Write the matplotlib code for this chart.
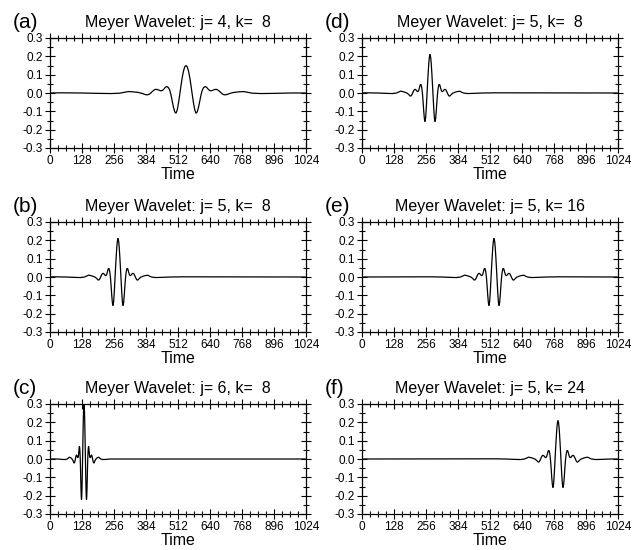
import numpy as np
import matplotlib.pyplot as plt
from matplotlib.ticker import MultipleLocator, FormatStrFormatter

plt.rcParams['font.family'] = ['Liberation Sans', 'DejaVu Sans']

# half-shapes of the wavelets: offset from the centre
# (time steps) and value; the wavelet is symmetric about its centre
j4_off = [0, 5, 10, 15, 20, 25, 30, 35, 40, 45, 50, 55, 60, 65, 70, 76, 82, 88,
          94, 100, 106, 114, 122, 130, 138, 146, 154, 162, 174, 190, 210, 230,
          246, 265, 300, 350, 420, 500]
j4_val = [0.150, 0.143, 0.120, 0.085, 0.040, -0.008, -0.055, -0.092, -0.110,
          -0.103, -0.078, -0.045, -0.010, 0.015, 0.029, 0.035, 0.032, 0.022,
          0.014, 0.012, 0.014, 0.019, 0.020, 0.014, 0.004, -0.006, -0.010,
          -0.009, -0.003, 0.003, 0.006, 0.008, 0.004, -0.001, -0.003, -0.002,
          0.000, 0.001]

j5_off = [0, 2.5, 5, 7.5, 10, 12.5, 15, 17.5, 20, 22.5, 25, 27.5, 30, 33, 36,
          39, 42, 45, 48, 51, 55, 59, 63, 67, 71, 75, 79, 84, 90, 100, 110, 118,
          124, 134, 150, 175, 210, 260]
j5_val = [0.210, 0.196, 0.160, 0.105, 0.045, -0.020, -0.085, -0.135, -0.155,
          -0.140, -0.100, -0.050, -0.005, 0.030, 0.046, 0.045, 0.030, 0.015,
          0.008, 0.008, 0.015, 0.020, 0.018, 0.008, -0.005, -0.015, -0.017,
          -0.010, -0.002, 0.004, 0.008, 0.010, 0.006, 0.000, -0.003, -0.002,
          0.000, 0.001]

j6_off = [0, 1, 2, 3, 4, 5, 6, 7, 8, 9, 10, 11, 12, 13, 14, 15, 16, 17, 18, 19,
          20, 21, 22, 23, 24, 26, 28, 30, 32, 34, 36, 38, 40, 42, 45, 50, 55, 59,
          62, 67, 75, 90, 105, 130]
j6_val = [0.300, 0.290, 0.255, 0.200, 0.130, 0.055, -0.020, -0.095, -0.160,
          -0.205, -0.220, -0.205, -0.165, -0.110, -0.050, 0.000, 0.035, 0.058,
          0.068, 0.066, 0.052, 0.035, 0.020, 0.012, 0.008, 0.010, 0.018, 0.022,
          0.016, 0.003, -0.010, -0.020, -0.022, -0.016, -0.006, 0.004, 0.008,
          0.010, 0.006, 0.000, -0.003, -0.002, 0.000, 0.000]

shapes = {4: (j4_off, j4_val), 5: (j5_off, j5_val), 6: (j6_off, j6_val)}

panel_labels = ['(a)', '(b)', '(c)', '(d)', '(e)', '(f)']
panel_j = [4, 5, 6, 5, 5, 5]
panel_k = [8, 8, 8, 8, 16, 24]
panel_centre = [544, 272, 136, 272, 528, 784]
n_time = 1024


def full_curve(off, val, centre):
    off = np.array(off, dtype=float)
    val = np.array(val, dtype=float)
    x = np.concatenate([centre - off[::-1], centre + off[1:]])
    y = np.concatenate([val[::-1], val[1:]])
    keep = (x > 0) & (x < n_time)
    x = np.concatenate([[0], x[keep], [n_time]])
    y = np.concatenate([[0], y[keep], [0]])
    return x, y


fig = plt.figure(figsize=(6.4, 5.5), dpi=100)
W, H = 640, 550
lefts = [50, 362]
tops = [38, 222, 404]
aw, ah = 256, 110

for i in range(6):
    col, row = divmod(i, 3)
    ax = fig.add_axes([lefts[col] / W, 1 - (tops[row] + ah) / H, aw / W, ah / H])
    off, val = shapes[panel_j[i]]
    x, y = full_curve(off, val, panel_centre[i])
    ax.plot(x, y, color='black', lw=0.9)

    ax.set_xlim(0, n_time)
    ax.set_ylim(-0.3, 0.3)
    ax.xaxis.set_major_locator(MultipleLocator(128))
    ax.xaxis.set_minor_locator(MultipleLocator(32))
    ax.yaxis.set_major_locator(MultipleLocator(0.1))
    ax.yaxis.set_minor_locator(MultipleLocator(0.05))
    ax.yaxis.set_major_formatter(FormatStrFormatter('%.1f'))
    ax.tick_params(which='both', direction='inout', top=True, right=True,
                   labelsize=8.5, width=0.8, pad=1.5)
    ax.tick_params(which='major', length=7)
    ax.tick_params(which='minor', length=4)
    for s in ax.spines.values():
        s.set_linewidth(0.9)

    ax.set_title(f'Meyer Wavelet: j= {panel_j[i]}, k= {panel_k[i]:2d}',
                 fontsize=11.5, pad=8)
    ax.set_xlabel('Time', fontsize=11.5, labelpad=0)
    ax.text(-0.145, 1.09, panel_labels[i], transform=ax.transAxes,
            fontsize=15, va='baseline', ha='left')

fig.savefig('out.png', dpi=100)
